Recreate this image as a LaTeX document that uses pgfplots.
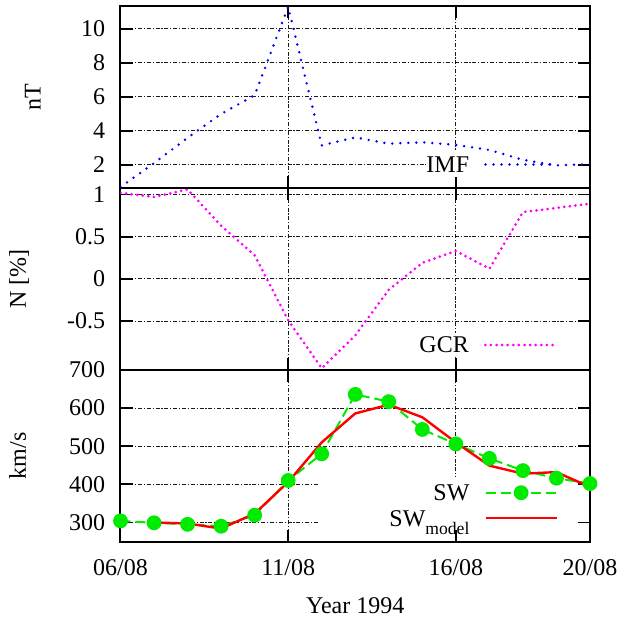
\documentclass[border=0pt]{standalone}
\usepackage{fontspec}
\setmainfont{Liberation Serif}
\usepackage{pgfplots}
\pgfplotsset{compat=1.18}

\definecolor{imfblue}{RGB}{0,0,255}
\definecolor{gcrmag}{RGB}{255,0,255}
\definecolor{swgreen}{RGB}{0,235,0}
\definecolor{modred}{RGB}{255,0,0}

% interplanetary magnetic field [nT]
\pgfplotstableread{
day  imf
6    0.70
7    2.10
8    3.60
9    5.00
10   6.10
11   11.30
12   3.15
13   3.62
14   3.25
15   3.33
16   3.18
17   2.88
18   2.30
19   1.97
20   2.05
}\imfdata

% galactic cosmic ray intensity [%]
\pgfplotstableread{
day  gcr
6    1.02
7    0.97
8    1.06
9    0.63
10   0.28
11   -0.49
12   -1.06
13   -0.67
14   -0.13
15   0.19
16   0.33
17   0.12
18   0.79
19   0.84
20   0.89
}\gcrdata

% solar wind speed, observed [km/s]
\pgfplotstableread{
day  sw
6    304
7    299
8    295
9    290
10   319
11   410
12   480
13   636
14   617
15   544
16   506
17   468
18   436
19   416
20   402
}\swdata

% solar wind speed, model [km/s]
\pgfplotstableread{
day  swm
7    300
8    297
9    284
10   323
11   406
12   510
13   586
14   609
15   576
16   510
17   449
18   428
19   432
20   393
}\swmodel

\pgfplotsset{
  panel/.style={
    scale only axis, width=234.75pt,
    xmin=6, xmax=20, xtick={6,11,16,20},
    tick pos=both, tick align=inside, major tick length=6pt,
    every tick/.style={black, line width=0.9pt},
    axis line style={line width=1pt},
    grid=major,
    major grid style={black!90, line width=0.5pt,
      dash pattern=on 2pt off 0.9pt on 0.6pt off 0.9pt},
    yticklabel style={xshift=-3.5pt},
    every axis y label/.style={rotate=90, anchor=center},
    legend plot pos=right,
    legend cell align=right,
    legend style={draw=none, fill=none, inner xsep=0pt, inner ysep=0pt,
      anchor=north east,
      nodes={inner sep=0pt, text height=8.8pt, text depth=1pt},
      column sep=7.5pt, row sep=3pt},
    legend image code/.code={\draw[mark repeat=2,mark phase=2,##1]
      plot coordinates {(0pt,0pt) (17.75pt,0pt) (35.5pt,0pt)};},
  },
}

\begin{document}
\begin{tikzpicture}
\fontsize{12}{14.4}\selectfont
\path[use as bounding box] (0,0) rectangle (309pt,311pt);

% bottom panel: solar wind speed
\begin{axis}[panel, at={(60.25pt,40.15pt)}, anchor=south west, height=85.85pt,
  ymin=249.4, ymax=700, ytick={300,400,500,600,700},
  yticklabels={300,400,500,600,700},
  xticklabels={06/08,11/08,16/08,20/08},
  xticklabel style={yshift=-4.6pt},
  ylabel={km/s}, ylabel style={at={(axis description cs:-0.219,0.5)}},
  xlabel={Year 1994},
  xlabel style={at={(axis description cs:0.5,0)}, anchor=center, yshift=-32.15pt},
  legend style={at={(axis cs:19.053,404.8)}},
]
\fill[white] (axis cs:11.92,280) rectangle (axis cs:19.61,418);
\addplot[swgreen, line width=1pt, dash pattern=on 5pt off 2.5pt,
  mark=*, mark size=3.2pt, mark options={solid, fill=swgreen, draw=swgreen}]
  table[x=day, y=sw] {\swdata};
\addlegendentry{SW}
\addplot[modred, line width=1.2pt] table[x=day, y=swm] {\swmodel};
\addlegendentry{SW\raisebox{-4pt}{\fontsize{8.8}{10}\selectfont model}}
\end{axis}

% middle panel: cosmic ray intensity
\begin{axis}[panel, at={(60.25pt,126pt)}, anchor=south west, height=91.15pt,
  ymin=-1.08, ymax=1.08, ytick={-0.5,0,0.5,1},
  yticklabels={-0.5,0,0.5,1}, xticklabels={},
  ylabel={N [\%]}, ylabel style={at={(axis description cs:-0.216,0.5)}},
  legend style={at={(axis cs:19.053,-0.663)}},
]
\fill[white] (axis cs:14.93,-0.92) rectangle (axis cs:19.61,-0.636);
\addplot[gcrmag, line width=1.5pt, line cap=round, dash pattern=on 0pt off 2.8pt]
  table[x=day, y=gcr] {\gcrdata};
\addlegendentry{GCR}
\end{axis}

% top panel: magnetic field
\begin{axis}[panel, at={(60.25pt,217.15pt)}, anchor=south west, height=90.85pt,
  ymin=0.66, ymax=11.35, ytick={2,4,6,8,10},
  yticklabels={2,4,6,8,10}, xticklabels={},
  ylabel={nT}, ylabel style={at={(axis description cs:-0.187,0.5)}},
  legend style={at={(axis cs:19.053,2.63)}},
]
\fill[white] (axis cs:15.11,1.29) rectangle (axis cs:19.61,2.88);
\addplot[imfblue, line width=1.35pt, line cap=round, dash pattern=on 0pt off 4pt]
  table[x=day, y=imf] {\imfdata};
\addlegendentry{IMF}
\end{axis}
\end{tikzpicture}
\end{document}
